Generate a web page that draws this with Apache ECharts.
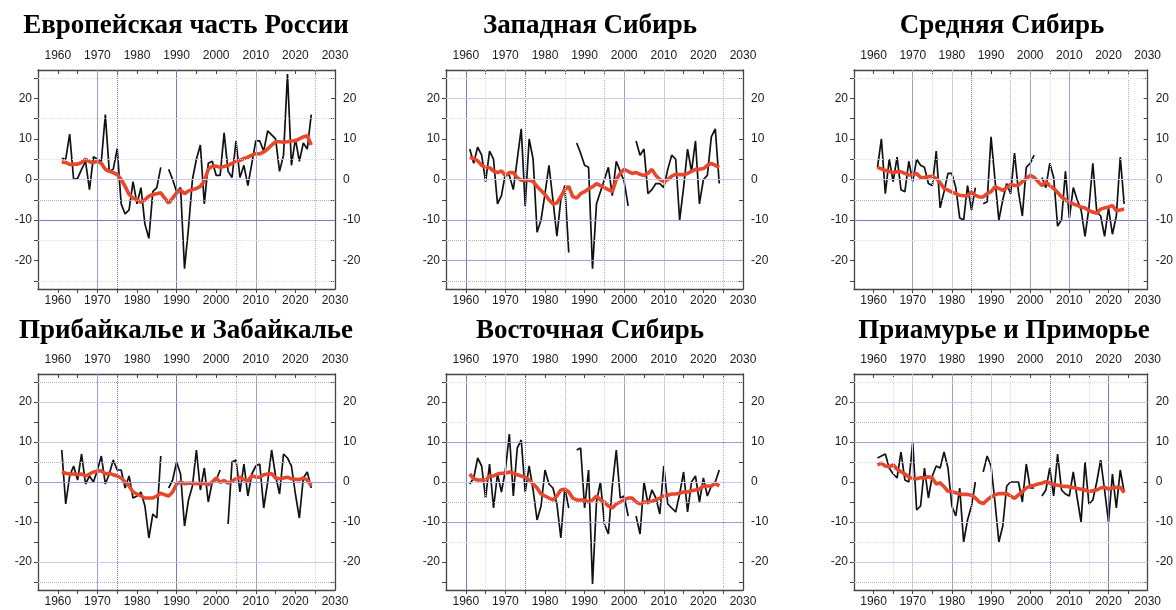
<!DOCTYPE html>
<html><head><meta charset="utf-8">
<script src="https://cdn.jsdelivr.net/npm/echarts@6/dist/echarts.min.js"></script>
<style>html,body{margin:0;padding:0;background:#fff}#c{width:1176px;height:610px}</style>
</head><body><div id="c"></div>
<script>
// ---- DATA ----
const years = Array.from({length: 64}, (_, i) => 1961 + i); // 1961..2024
const titles = ['Европейская часть России', 'Западная Сибирь', 'Средняя Сибирь',
                'Прибайкалье и Забайкалье', 'Восточная Сибирь', 'Приамурье и Приморье'];
const xLabels = [1960, 1970, 1980, 1990, 2000, 2010, 2020, 2030];
const xTicks = [1960, 1965, 1970, 1975, 1980, 1985, 1990, 1995, 2000, 2005, 2010, 2015, 2020, 2025];
const yLabels = [-20, -10, 0, 10, 20];
const yTicks = [-25, -20, -15, -10, -5, 0, 5, 10, 15, 20, 25];

const eurAnnual = [
  5.2, 5, 11.2, 0, 0.3, 2.5, 4.5, -2.5, 5.6, 5,
  4.5, 16, 2, 2.5, 7.6, -6, -8.5, -7.5, -0.5, -6,
  -2, -11, -14.5, -3, -2, 3, null, 2.5, 0, -3,
  -2, -22, -12, 0, 5, 8.5, -6, 4, 4.5, 1,
  1, 11.5, 2, 0.5, 9.5, 0.5, 3.5, -1.5, 4, 9.5,
  9.5, 7, 12, 11, 10, 2, 6, 26, 3.5, 10,
  4.5, 9, 7.5, 16];
const eurSmooth = [
  4.3, 4.2, 3.7, 3.8, 3.8, 4.2, 5, 4.4, 4.2, 4.5,
  4, 2.5, 2, 1.7, 1.2, 0, -1.7, -3.7, -4.6, -5,
  -5.6, -5, -4.1, -3.7, -3.5, -3.3, -4.6, -5.8, -4.6, -3.3,
  -2.6, -3.5, -2.8, -2.5, -2.2, -1.7, -0.4, 2.5, 3.3, 3.3,
  3, 3.2, 3.5, 4, 4.5, 4.7, 5.2, 5.5, 6, 6.4,
  6.3, 6.8, 7.5, 8.5, 9.3, 9.3, 9.2, 9.3, 9.5, 9.5,
  10, 10.5, 10.8, 8.5];

const wsAnnual = [
  7.5, 4, 8, 6, -0.5, 7, 5, -6, -4, 1.5,
  1, -2.5, 5, 12.5, -6.5, 10, 5, -13, -10, -3.5,
  3.5, -5, -14, -5, -1.5, -18, null, 9, 6.5, 3.5,
  3, -22, -6, -3, 0, 3, -4, 4.5, 2, -0.5,
  -6.5, null, 9.5, 6, 7.5, -3.5, -2.5, -1, -1, -2,
  2.5, 6, 5, -10, -2, 7.5, 2, 9.5, -6, 0,
  1, 10.5, 12.5, -1];
const wsSmooth = [
  5.4, 5.2, 4.6, 3.5, 3, 2.9, 2.1, 1.7, 2.1, 1,
  1.7, 1.7, 0.4, -0.2, -0.2, -0.2, -0.5, -1.7, -2.7, -3.7,
  -5, -6, -5.8, -4.2, -2.5, -1.7, -4.2, -4.6, -3.5, -3,
  -2.3, -1.8, -1, -1.5, -2, -2.5, -3, 0, 1.5, 2.5,
  2, 1.5, 1.7, 1.3, 1, 1.5, 2.5, 1, 0, -0.5,
  0, 0.8, 1.3, 1.2, 1.2, 1.5, 2, 2.5, 2.5, 2.7,
  3.5, 4, 3.5, 3];

const csAnnual = [
  3, 10, -3.5, 5, -0.5, 5.5, -2.5, -3, 4.5, -0.5,
  5, 3.5, 3, -1, -1.5, 7, -7, -3, 1.5, 1.5,
  -2, -9.5, -10, -1.5, -7.5, -2, null, -6, -5.5, 10.5,
  0, -10, -5, -1, -3.5, 6.5, -3, -9, 3, 4,
  6, null, 0.5, -2, 4, 0.5, -11.5, -10, 2, -9.5,
  -2, -5, -7.5, -14, -7, 4, -8, -9, -14, -7,
  -13.5, -9, 5.5, -6];
const csSmooth = [
  3, 2.6, 2.2, 2, 1.7, 1.9, 1.9, 1.5, 1.1, 1.2,
  1.5, 0.5, 0.5, 0.7, 0.8, 0.25, -0.8, -2.2, -2.6, -3.1,
  -3.5, -3.9, -4, -4, -3.1, -3.9, -4.3, -4.3, -3.5, -3,
  -1.8, -2.2, -2.7, -2, -1.2, -1.5, -1.4, -0.5, 0.2, 1,
  0.5, -0.5, -1.5, -0.6, -1.5, -2.2, -3.2, -4.3, -5, -5.6,
  -6, -6.4, -6.8, -7, -7.7, -8, -8.3, -7.3, -7, -6.8,
  -6.4, -7.7, -7.5, -7.3];

const bkAnnual = [
  8, -5.5, 1.5, 4, 0.5, 7, -0.5, 1.5, 0, 3,
  6.5, -0.5, 2, 5.5, 3, 3, -1.5, 1.5, -4, -3.5,
  -2.5, -6, -14, -8, -9, 6.5, null, -1.5, 0.5, 5,
  2, -11, -4.5, -1, 8, -2, 3.5, -5, 0, 0.5,
  3, null, -10.5, 5, 5.5, -2.5, 4.5, -3.5, 2, 4,
  4.5, -6.5, 0, 8, 1.5, -3, 7, 6, 4, -3,
  -9, 1, 2.5, -1.5];
const bkSmooth = [
  2.5, 2.2, 2, 2, 1.8, 2, 1.5, 2, 2.5, 2.7,
  2.8, 2, 2.2, 1.8, 1.5, 1, 0, -1, -2.5, -3,
  -3.5, -4, -4, -4, -3.5, -2.8, -3.2, -3.5, -2.5, -0.5,
  0, -0.4, -0.3, -0.3, -0.4, -0.4, -0.3, -0.7, 0, 1,
  -0.1, 0.4, -0.3, 0.2, 0.8, 1.2, 0.6, 0.3, 1.6, 1.2,
  1.2, 1.8, 2, 2.1, 1, 0.8, 1, 1.2, 0.8, 0.7,
  0.6, 1, 0.5, -0.9];

const esAnnual = [
  -0.5, 1, 6, 4, -4, 4.5, -6.5, 2, -2.5, 3,
  12, -3.5, 8.5, 10.5, -2.5, 4, -2, -9.5, -6, 3,
  -0.5, -1.5, -5.5, -14, -1.5, -6.5, null, 8, 8.5, -6.5,
  3, -25.5, -5, 0, -10.5, -13, -1, 8, -4, -3.5,
  -8.5, null, -8.5, -13, 0, -5.5, -2, -4, -8, 4,
  -5.5, -6.5, -7.5, -3, 2.5, -7.5, 0, 1.5, -5, 1,
  -3.5, -1, 0, 3];
const esSmooth = [
  2, 0.8, 0.5, 0.5, 0.5, 1.5, 1.5, 2, 2.2, 2.2,
  2.5, 2.2, 1.8, 1.5, 1.2, 0.5, -0.5, -1.5, -3, -3.5,
  -4, -4.5, -3.5, -2, -1.8, -2.5, -4, -4.5, -4.5, -4.5,
  -5, -4.5, -3.5, -4.5, -5, -6, -6.5, -5.5, -5, -4.5,
  -4, -4, -5, -5.5, -5, -5, -4.8, -4.5, -4, -3.5,
  -3.3, -3, -3, -2.8, -2.5, -2.5, -2.2, -2, -1.8, -1,
  -1, -1, -0.3, -1];

const amAnnual = [
  6, 6.5, 7, 3.5, 2, 1, 7.5, 0.5, 0, 10,
  -7, -6, 3.5, -4, 1.5, 4, 3.5, 7.5, 3.5, -6,
  -8.5, -1.5, -15, -9.5, -6, 0, null, 2.5, 6.5, 4,
  -5, -15, -11, -1, 0, 0, 0, -5, 4.5, -1.5,
  -1.5, null, -3.5, -2, 3.5, -3.5, 7, -2, -3, -3.5,
  2.5, -4, -10, 5, -5.5, -4.5, 0, 5.5, -2, -10,
  2, -6.5, 3, -2.5];
const amSmooth = [
  4.3, 4.7, 4, 3.8, 4.3, 3.2, 2.6, 2, 1.2, 0.9,
  0.8, 1.1, 1, 1.3, 1, -0.5, -0.2, -1.2, -2.3, -2.4,
  -2.7, -3, -3.1, -3.1, -3.3, -4, -5, -5.4, -4.5, -3.7,
  -3.2, -2.9, -2.9, -2.9, -3.5, -4.1, -3.2, -2.4, -1.5, -1,
  -0.8, -0.5, -0.3, 0.1, -0.3, -0.6, -0.8, -1, -1.1, -1.2,
  -1.4, -1.6, -1.8, -2, -2.4, -2.2, -2, -1.5, -1.3, -1.8,
  -1.5, -1.3, -1.3, -2.7];

const annualSets = [eurAnnual, wsAnnual, csAnnual, bkAnnual, esAnnual, amAnnual];
const smoothSets = [eurSmooth, wsSmooth, csSmooth, bkSmooth, esSmooth, amSmooth];

// ---- GRID-LINE DECORATION (style codes per panel) ----
// codes: S dark solid, M mid solid, L light solid, D dark dotted, m mid dotted, f faint dotted
const gridDeco = [
  {x: [[1970,'M'],[1975,'D'],[1990,'S'],[2005,'m'],[2010,'M'],[2025,'m']],
   y: [[0,'L'],[-10,'S'],[-5,'m'],[5,'f'],[25,'f'],[15,'f'],[-15,'f'],[-25,'f']]},
  {x: [[1960,'S'],[1965,'f'],[1970,'L'],[1975,'D'],[1985,'f'],[1995,'m'],[2000,'M'],[2010,'L'],[2025,'m']],
   y: [[0,'L'],[20,'L'],[-10,'M'],[-20,'M'],[-15,'m'],[-25,'m'],[25,'f'],[15,'f']]},
  {x: [[1970,'M'],[1975,'f'],[1980,'L'],[1985,'D'],[1995,'m'],[2000,'M'],[2005,'f'],[2010,'M'],[2025,'m']],
   y: [[0,'L'],[-10,'S'],[-5,'m'],[5,'f'],[-15,'f'],[25,'f']]},
  {x: [[1970,'M'],[1975,'D'],[1990,'S'],[2005,'m'],[2010,'M'],[2025,'f']],
   y: [[25,'m'],[-25,'m'],[10,'L'],[0,'M'],[5,'m'],[-20,'L'],[20,'L']]},
  {x: [[1960,'S'],[1965,'f'],[1970,'L'],[1975,'D'],[1985,'m'],[1995,'f'],[2000,'M'],[2010,'L'],[2025,'m']],
   y: [[10,'M'],[-10,'M'],[15,'f'],[25,'f'],[-5,'m'],[-15,'f'],[0,'L']]},
  {x: [[1965,'f'],[1970,'L'],[1980,'M'],[1985,'m'],[1990,'L'],[1995,'f'],[2005,'D'],[2015,'f'],[2020,'S']],
   y: [[20,'L'],[10,'M'],[-10,'L'],[-20,'L'],[15,'m'],[-25,'m'],[25,'f'],[5,'f'],[-15,'f']]}
];
const lineStyles = {
  S: {type: 'solid', color: '#7478c2', width: 1},
  M: {type: 'solid', color: '#9c9ed6', width: 1},
  L: {type: 'solid', color: '#c9cbec', width: 1},
  D: {type: 'dotted', color: '#7679d4', width: 1},
  m: {type: 'dotted', color: '#abade2', width: 1},
  f: {type: 'dotted', color: '#d8d9ee', width: 1}
};

// ---- LAYOUT ----
const colLeft = [38, 446, 854];
const rowTop = [70, 374];
const rowH = [219, 216];
const plotW = 297;
const titlePos = [[186, 26], [590, 26], [1002, 26], [186, 331], [590, 331], [1004, 331]];

const chart = echarts.init(document.getElementById('c'), null, {renderer: 'canvas'});
const grid = [], xAxis = [], yAxis = [], series = [], graphic = [];
const axisFont = {fontFamily: '"Liberation Sans", Arial, sans-serif', fontSize: 12, color: '#1a1a1a',
                  formatter: v => String(v)};

for (let i = 0; i < 6; i++) {
  const r = Math.floor(i / 3), c = i % 3;
  grid.push({left: colLeft[c], top: rowTop[r], width: plotW, height: rowH[r]});
  ['bottom', 'top'].forEach(pos => {
    xAxis.push({
      gridIndex: i, type: 'value', min: 1955, max: 2030, position: pos,
      axisLine: {show: true, onZero: false, lineStyle: {color: '#444', width: 1.3}},
      axisTick: {show: true, customValues: xTicks, length: 4, inside: pos === 'top', lineStyle: {color: '#444'}},
      axisLabel: Object.assign({customValues: xLabels, margin: pos === 'top' ? 8 : 6}, axisFont),
      splitLine: {show: false}
    });
  });
  ['left', 'right'].forEach(pos => {
    yAxis.push({
      gridIndex: i, type: 'value', min: -27, max: 27, position: pos,
      axisLine: {show: true, onZero: false, lineStyle: {color: '#444', width: 1.3}},
      axisTick: {show: true, customValues: yTicks, length: 4, inside: pos === 'right', lineStyle: {color: '#444'}},
      axisLabel: Object.assign({customValues: yLabels, margin: pos === 'left' ? 6 : 8}, axisFont),
      splitLine: {show: false}
    });
  });
  const deco = gridDeco[i];
  const mlData = deco.x.map(([v, s]) => ({xAxis: v, lineStyle: lineStyles[s]}))
    .concat(deco.y.map(([v, s]) => ({yAxis: v, lineStyle: lineStyles[s]})));
  series.push({
    type: 'line', xAxisIndex: 2 * i, yAxisIndex: 2 * i, data: [], z: 1, silent: true,
    markLine: {silent: true, symbol: ['none', 'none'], label: {show: false}, animation: false, data: mlData}
  });
  series.push({
    type: 'line', xAxisIndex: 2 * i, yAxisIndex: 2 * i, z: 3,
    data: years.map((y, k) => [y, annualSets[i][k] === null ? '-' : annualSets[i][k]]),
    showSymbol: false, connectNulls: false,
    lineStyle: {color: '#111', width: 1.7}
  });
  series.push({
    type: 'line', xAxisIndex: 2 * i, yAxisIndex: 2 * i, z: 4,
    data: years.map((y, k) => [y, smoothSets[i][k]]),
    showSymbol: false,
    lineStyle: {color: '#e8472b', width: 3.6}
  });
  graphic.push({
    type: 'text', x: titlePos[i][0], y: titlePos[i][1],
    style: {text: titles[i], font: 'bold 27px "Liberation Serif", "Times New Roman", serif',
            fill: '#000', textAlign: 'center', textVerticalAlign: 'middle'}
  });
}

chart.setOption({animation: false, backgroundColor: '#fff', grid, xAxis, yAxis, series, graphic});
</script></body></html>
